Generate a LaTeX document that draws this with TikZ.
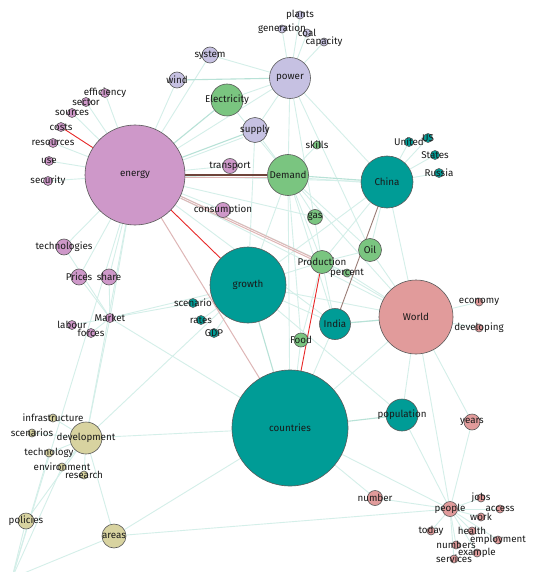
\documentclass[tikz,border=0pt]{standalone}
\usepackage{fontspec}
\setmainfont{Fira Sans}
\definecolor{cE}{RGB}{206,152,201}
\definecolor{cL}{RGB}{198,193,226}
\definecolor{cG}{RGB}{122,197,128}
\definecolor{cT}{RGB}{0,156,150}
\definecolor{cP}{RGB}{225,155,155}
\definecolor{cK}{RGB}{216,211,160}
\definecolor{edc}{RGB}{212,239,233}
\definecolor{edd}{RGB}{184,226,215}
\definecolor{redc}{RGB}{232,40,40}
\definecolor{pinkc}{RGB}{222,182,182}
\definecolor{brnc}{RGB}{110,68,58}
\pgfdeclarelayer{bg}
\pgfdeclarelayer{fg}
\pgfsetlayers{bg,main,fg}
\newcommand\gnode[6]{%
  \node[nd,minimum size=#4pt,fill=#5] (#1) at (#2,#3) {};
  \begin{pgfonlayer}{fg}\node[lbl] (#1-t) at (#2,#3) {#6};\end{pgfonlayer}}
\begin{document}
\begin{tikzpicture}[x=1pt,y=-1pt,
  nd/.style={circle,draw=black!65,line width=0.6pt,inner sep=0pt},
  lbl/.style={inner sep=0pt,text=black!90,font=\fontsize{9.8}{11}\selectfont},
  ed/.style={draw=edc,line width=0.9pt},
  eds/.style={draw=edd,line width=1.1pt},
  red/.style={draw=redc,line width=0.9pt},
  pnk/.style={draw=pinkc,line width=1pt},
  brn/.style={draw=brnc,line width=1.1pt}]
\useasboundingbox (0,0) rectangle (538,572);
% nodes
\gnode{energy}{135}{175}{100}{cE}{energy}
\gnode{countries}{290}{428}{116}{cT}{countries}
\gnode{growth}{248}{285}{76}{cT}{growth}
\gnode{World}{416}{317}{74}{cP}{World}
\gnode{China}{387}{182}{52}{cT}{China}
\gnode{power}{290}{78}{41}{cL}{power}
\gnode{Demand}{288}{175}{41}{cG}{Demand}
\gnode{Electricity}{227}{100}{32}{cG}{Electricity}
\gnode{supply}{255}{130}{25}{cL}{supply}
\gnode{wind}{177}{80}{16}{cL}{wind}
\gnode{system}{210}{55}{16}{cL}{system}
\gnode{transport}{230}{166}{15}{cE}{transport}
\gnode{consumption}{223}{210}{15}{cE}{consumption}
\gnode{efficiency}{105}{93}{9}{cE}{efficiency}
\gnode{sector}{86}{102}{9}{cE}{sector}
\gnode{sources}{72}{113}{9}{cE}{sources}
\gnode{costs}{61}{127}{9}{cE}{costs}
\gnode{resources}{53}{143}{9}{cE}{resources}
\gnode{use}{49}{161}{9}{cE}{use}
\gnode{security}{48}{181}{9}{cE}{security}
\gnode{technologies}{64}{247}{16}{cE}{technologies}
\gnode{Prices}{79}{277}{16}{cE}{Prices}
\gnode{share}{109}{277}{16}{cE}{share}
\gnode{Market}{110}{318}{9}{cE}{Market}
\gnode{labour}{72}{325}{9}{cE}{labour}
\gnode{forces}{91}{333}{9}{cE}{forces}
\gnode{scenario}{193}{303}{9}{cT}{scenario}
\gnode{rates}{201}{320}{9}{cT}{rates}
\gnode{GDP}{214}{333}{9}{cT}{GDP}
\gnode{gas}{315}{217}{15}{cG}{gas}
\gnode{Oil}{370}{250}{23}{cG}{Oil}
\gnode{Production}{322}{262}{23}{cG}{Production}
\gnode{percent}{347}{273}{8}{cG}{percent}
\gnode{India}{335}{324}{31}{cT}{India}
\gnode{Food}{301}{340}{14}{cG}{Food}
\gnode{skills}{317}{145}{8}{cG}{skills}
\gnode{United}{409}{142}{9}{cT}{United}
\gnode{US}{428}{138}{9}{cT}{US}
\gnode{States}{435}{155}{9}{cT}{States}
\gnode{Russia}{439}{173}{9}{cT}{Russia}
\gnode{plants}{300}{15}{8}{cL}{plants}
\gnode{generation}{282}{29}{8}{cL}{generation}
\gnode{coal}{307}{33}{8}{cL}{coal}
\gnode{capacity}{324}{42}{8}{cL}{capacity}
\gnode{economy}{479}{302}{8}{cP}{economy}
\gnode{developing}{479}{328}{8}{cP}{developing}
\gnode{population}{402}{415}{32}{cT}{population}
\gnode{years}{472}{422}{16}{cP}{years}
\gnode{number}{375}{498}{15}{cP}{number}
\gnode{people}{450}{509}{15}{cP}{people}
\gnode{jobs}{481}{498}{8}{cP}{jobs}
\gnode{access}{500}{509}{8}{cP}{access}
\gnode{work}{481}{517}{8}{cP}{work}
\gnode{today}{431}{531}{8}{cP}{today}
\gnode{health}{472}{531}{8}{cP}{health}
\gnode{employment}{498}{540}{8}{cP}{employment}
\gnode{numbers}{456}{545}{8}{cP}{numbers}
\gnode{example}{477}{553}{8}{cP}{example}
\gnode{services}{454}{559}{8}{cP}{services}
\gnode{infrastructure}{53}{418}{8}{cK}{infrastructure}
\gnode{scenarios}{32}{433}{8}{cK}{scenarios}
\gnode{development}{86}{438}{32}{cK}{development}
\gnode{technology}{49}{453}{8}{cK}{technology}
\gnode{environment}{62}{467}{8}{cK}{environment}
\gnode{research}{84}{475}{8}{cK}{research}
\gnode{policies}{26}{521}{16}{cK}{policies}
\gnode{areas}{114}{536}{24}{cK}{areas}
\coordinate (bl) at (12,578);
% edges
\begin{pgfonlayer}{bg}
\fill[white] (0,0) rectangle (538,572);
\foreach \a/\b in {energy/efficiency,energy/sector,energy/sources,energy/resources,energy/use,energy/security,
  energy/wind,energy/system,energy/power,energy/transport,energy/consumption,
  energy/technologies,energy/Prices,energy/share,energy/Market,energy/development,energy/World,energy/China,
  energy/gas,energy/India,energy/percent,
  power/plants,power/generation,power/coal,power/capacity,power/system,power/Electricity,power/supply,
  power/China,power/Oil,power/Production,power/Demand,
  Electricity/Demand,supply/Demand,supply/growth,
  Demand/skills,Demand/gas,Demand/Production,Demand/growth,Demand/countries,Demand/Food,Demand/India,Demand/World,Demand/Oil,
  China/United,China/US,China/States,China/Russia,China/Oil,China/World,China/growth,China/Production,
  growth/scenario,growth/rates,growth/GDP,growth/Production,growth/World,growth/India,growth/population,growth/Market,
  World/economy,World/developing,World/population,World/people,World/years,World/India,World/Oil,World/Production,World/percent,World/countries,
  Production/percent,Production/Food,Production/India,Oil/Production,
  countries/Food,countries/India,countries/number,countries/people,countries/development,countries/areas,countries/Market,
  people/jobs,people/access,people/work,people/today,people/health,people/employment,people/numbers,people/example,people/services,
  people/number,people/years,people/population,people/areas,
  development/infrastructure,development/scenarios,development/technology,development/environment,development/research,
  development/areas,development/growth,development/Market,development/policies,
  Market/labour,Market/forces,Market/Prices,Market/share,Market/scenario,Market/technologies,
  bl/policies,bl/areas,bl/technology,bl/energy,bl/environment}
  \draw[ed] (\a) -- (\b);
\foreach \a/\b in {energy/Electricity,energy/supply,power/wind,Demand/China,growth/countries,countries/population,India/World}
  \draw[eds] (\a) -- (\b);
\draw[ed,transform canvas={yshift=-2pt}] (Demand) -- (China);
\draw[ed,transform canvas={yshift=-3pt}] (energy) -- (supply);
\draw[red] (energy) -- (costs);
\draw[red] (energy) -- (growth);
\draw[red] (Production) -- (countries);
\draw[pnk] (energy) -- (countries);
\draw[pnk] (energy) -- (Production);
\draw[pnk,transform canvas={yshift=-2pt}] (energy) -- (Production);
\draw[brn] (energy) -- (Demand);
\draw[draw=pinkc,line width=1pt,transform canvas={yshift=-2pt}] (energy) -- (Demand);
\draw[draw=brnc!70,line width=0.9pt] (China) -- (India);
\end{pgfonlayer}
\end{tikzpicture}
\end{document}
